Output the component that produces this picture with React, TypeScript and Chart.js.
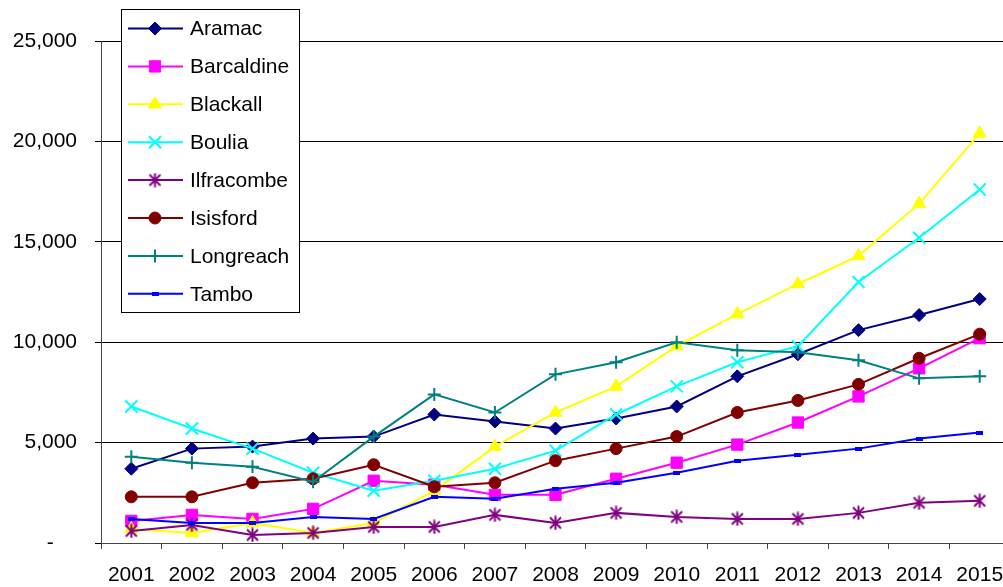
import { useEffect, useRef } from 'react';
import { Chart, registerables } from 'chart.js';
import { drawPoint } from 'chart.js/helpers';

Chart.register(...registerables);

// Categories and series values
const years = ['2001', '2002', '2003', '2004', '2005', '2006', '2007', '2008', '2009', '2010', '2011', '2012', '2013', '2014', '2015'];
const aramac = [3700, 4700, 4800, 5200, 5300, 6400, 6050, 5700, 6200, 6800, 8300, 9400, 10600, 11350, 12150];
const barcaldine = [1100, 1400, 1200, 1700, 3100, 2900, 2400, 2400, 3200, 4000, 4900, 6000, 7300, 8700, 10200];
const blackall = [700, 500, 1000, 500, 1000, 2600, 4800, 6500, 7800, 9800, 11400, 12900, 14300, 16900, 20400];
const boulia = [6800, 5700, 4700, 3500, 2600, 3100, 3700, 4600, 6400, 7800, 9000, 9800, 13000, 15200, 17600];
const ilfracombe = [600, 900, 400, 500, 800, 800, 1400, 1000, 1500, 1300, 1200, 1200, 1500, 2000, 2100];
const isisford = [2300, 2300, 3000, 3200, 3900, 2800, 3000, 4100, 4700, 5300, 6500, 7100, 7900, 9200, 10400];
const longreach = [4300, 4000, 3800, 3050, 5300, 7400, 6500, 8400, 9000, 10000, 9600, 9500, 9100, 8200, 8300];
const tambo = [1200, 1000, 1000, 1300, 1200, 2300, 2200, 2700, 3000, 3500, 4100, 4400, 4700, 5200, 5500];

const FONT = '"Liberation Sans", Arial, sans-serif';

// Asterisk marker: an X with a vertical stroke
function makeAsterisk(color: string) {
  const c = document.createElement('canvas');
  c.width = 15;
  c.height = 15;
  const g = c.getContext('2d')!;
  g.strokeStyle = color;
  g.lineWidth = 2;
  g.beginPath();
  g.moveTo(2, 2); g.lineTo(13, 13);
  g.moveTo(13, 2); g.lineTo(2, 13);
  g.moveTo(7.5, 0.5); g.lineTo(7.5, 14.5);
  g.stroke();
  return c;
}

// Small dash marker
function makeDash(color: string) {
  const c = document.createElement('canvas');
  c.width = 7;
  c.height = 4;
  const g = c.getContext('2d')!;
  g.fillStyle = color;
  g.fillRect(0, 0, 7, 4);
  return c;
}

type Series = { label: string; data: number[]; color: string; style: any; radius: number; border: number; fill: string };

function buildSeries(): Series[] {
  return [
    { label: 'Aramac', data: aramac, color: '#000080', style: 'rectRot', radius: 6.5, border: 1, fill: '#000080' },
    { label: 'Barcaldine', data: barcaldine, color: '#FF00FF', style: 'rect', radius: 8, border: 1, fill: '#FF00FF' },
    { label: 'Blackall', data: blackall, color: '#FFFF00', style: 'triangle', radius: 7.5, border: 1, fill: '#FFFF00' },
    { label: 'Boulia', data: boulia, color: '#00FFFF', style: 'crossRot', radius: 8.5, border: 2, fill: '#00FFFF' },
    { label: 'Ilfracombe', data: ilfracombe, color: '#800080', style: makeAsterisk('#800080'), radius: 7, border: 1, fill: '#800080' },
    { label: 'Isisford', data: isisford, color: '#800000', style: 'circle', radius: 6, border: 1, fill: '#800000' },
    { label: 'Longreach', data: longreach, color: '#008080', style: 'cross', radius: 6.5, border: 2, fill: '#008080' },
    { label: 'Tambo', data: tambo, color: '#0000FF', style: makeDash('#0000FF'), radius: 3, border: 1, fill: '#0000FF' },
  ];
}

// Boxed legend drawn inside the plot area
const boxLegend = {
  id: 'boxLegend',
  afterDraw(chart: any) {
    const ctx = chart.ctx as CanvasRenderingContext2D;
    ctx.save();
    ctx.fillStyle = '#ffffff';
    ctx.strokeStyle = '#000000';
    ctx.lineWidth = 1;
    ctx.fillRect(121.5, 9.5, 178, 303);
    ctx.strokeRect(121.5, 9.5, 178, 303);
    chart.data.datasets.forEach((ds: any, i: number) => {
      const y = 28.5 + i * 37.9;
      ctx.strokeStyle = ds.borderColor;
      ctx.lineWidth = 2;
      ctx.beginPath();
      ctx.moveTo(128, y);
      ctx.lineTo(183, y);
      ctx.stroke();
      ctx.fillStyle = ds.pointBackgroundColor;
      ctx.strokeStyle = ds.pointBorderColor;
      ctx.lineWidth = ds.pointBorderWidth;
      drawPoint(ctx, { pointStyle: ds.pointStyle, rotation: 0, radius: ds.pointRadius, borderWidth: ds.pointBorderWidth } as any, 155, y);
      ctx.fillStyle = '#000000';
      ctx.font = `21px ${FONT}`;
      ctx.textBaseline = 'middle';
      ctx.textAlign = 'left';
      ctx.fillText(ds.label, 190, y + 1);
    });
    ctx.restore();
  },
};

export default function App() {
  const ref = useRef<HTMLCanvasElement | null>(null);

  useEffect(() => {
    if (!ref.current) return;
    const series = buildSeries();
    const n = series.length;
    const chart = new Chart(ref.current, {
      type: 'line',
      data: {
        labels: years,
        datasets: series.map((s, i) => ({
          label: s.label,
          data: s.data,
          borderColor: s.color,
          backgroundColor: s.fill,
          borderWidth: 2,
          pointStyle: s.style,
          pointRadius: s.radius,
          pointBackgroundColor: s.fill,
          pointBorderColor: s.color,
          pointBorderWidth: s.border,
          tension: 0,
          fill: false,
          order: n - 1 - i,
        })),
      },
      options: {
        responsive: false,
        animation: false,
        events: [],
        font: { family: FONT },
        layout: { padding: { left: 0, right: 20, top: 41, bottom: 0 } },
        plugins: { legend: { display: false }, tooltip: { enabled: false } },
        scales: {
          x: {
            offset: true,
            grid: { offset: true, drawOnChartArea: false, drawTicks: true, tickLength: 6, color: '#444444' },
            border: { color: '#444444', width: 1 },
            ticks: { color: '#000000', font: { family: FONT, size: 21 }, padding: 14, maxRotation: 0, autoSkip: false },
            afterFit: (s: any) => { s.height = 44; },
          },
          y: {
            min: 0,
            max: 25000,
            grid: { color: '#000000', lineWidth: 1, tickLength: 6 },
            border: { color: '#444444', width: 1 },
            ticks: {
              stepSize: 5000,
              color: '#000000',
              padding: 18,
              font: { family: FONT, size: 21 },
              callback: (v: any) => (Number(v) === 0 ? '-    ' : Number(v).toLocaleString('en-US')),
            },
            afterFit: (s: any) => { s.width = 101; },
          },
        },
      } as any,
      plugins: [boxLegend],
    });
    return () => chart.destroy();
  }, []);

  return (
    <div style={{ position: 'fixed', left: 0, top: 0, width: 1003, height: 587, overflow: 'hidden', background: '#ffffff' }}>
      <canvas ref={ref} width={1030} height={587} style={{ width: 1030, height: 587, display: 'block' }} />
    </div>
  );
}
